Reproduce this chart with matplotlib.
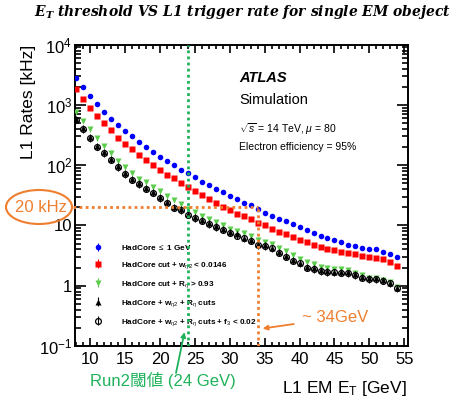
import matplotlib
matplotlib.use('Agg')
import matplotlib.pyplot as plt
from matplotlib.patches import Ellipse
from matplotlib.ticker import MultipleLocator, LogLocator, NullFormatter, FixedLocator, FixedFormatter

plt.rcParams['font.family'] = ['Liberation Sans', 'DejaVu Sans']
plt.rcParams['mathtext.fontset'] = 'custom'
plt.rcParams['mathtext.rm'] = 'Liberation Sans'
plt.rcParams['mathtext.it'] = 'Liberation Sans:italic'
plt.rcParams['mathtext.bf'] = 'Liberation Sans:bold'

# L1 EM ET thresholds [GeV]
et = list(range(8, 55))

# L1 rates [kHz]
rate_hadcore = [2770, 1960, 1406, 1035, 774, 592, 469, 369, 301, 242, 200, 165, 136, 118, 100, 83,
                73, 62.7, 53, 46.6, 40, 35.3, 31, 27, 23.8, 21.5, 18.7, 16, 14.4, 12.9, 11.7, 10.5,
                9.5, 8.4, 7.5, 6.8, 6.3, 5.85, 5.3, 4.8, 4.6, 4.3, 4.1, 4.0, 3.7, 3.4, 3.0]
rate_weta2 = [1836, 1253, 898, 662, 495, 378, 285, 224, 183, 147, 122, 100, 83, 69, 61, 51,
              43.8, 37.2, 31.9, 27, 23.2, 20.4, 17.9, 15.8, 14.3, 12.6, 11.0, 10.1, 8.9, 7.9, 7.1, 6.5,
              5.85, 5.3, 4.8, 4.4, 4.1, 3.9, 3.7, 3.5, 3.3, 3.1, 3.0, 2.94, 2.75, 2.5, 2.1]
rate_reta = [771, 547, 393, 279, 208, 157, 118, 94, 73, 58.7, 51.8, 43.8, 37.6, 31, 26.5, 22.3,
             19.1, 16.8, 14.4, 12.7, 11.5, 10.1, 8.9, 8.0, 7.4, 6.6, 5.85, 5.3, 4.9, 4.2, 3.75, 3.2,
             2.83, 2.5, 2.27, 2.05, 1.98, 1.93, 1.88, 1.81, 1.6, 1.49, 1.36, 1.33, 1.26, 1.15, 0.96]
rate_weta2_reta = [585, 410, 291, 211, 164, 127, 96, 74, 59.5, 50, 42.3, 35.9, 29.3, 24.2, 20.6, 18.6,
                   15.8, 13.6, 12.3, 10.9, 9.7, 8.7, 7.8, 7.1, 6.3, 5.7, 4.9, 4.7, 4.3, 3.65, 3.15, 2.7,
                   2.43, 2.08, 1.95, 1.8, 1.74, 1.72, 1.69, 1.66, 1.55, 1.42, 1.33, 1.32, 1.24, 1.13, 0.93]
rate_f3 = [561, 393, 279, 202, 157, 122, 92, 71, 57, 48, 40.5, 34.4, 28.1, 23.2, 19.8, 17.9,
           15.2, 13.1, 11.8, 10.5, 9.3, 8.4, 7.5, 6.8, 6.1, 5.5, 4.7, 4.5, 4.15, 3.5, 3.05, 2.6,
           2.34, 2.0, 1.88, 1.74, 1.68, 1.66, 1.63, 1.6, 1.49, 1.37, 1.28, 1.27, 1.2, 1.09, 0.90]

labels = ['HadCore $\\leq$ 1 GeV',
          'HadCore cut + w$_{\\eta 2}$ < 0.0146',
          'HadCore cut + R$_{\\eta}$ > 0.93',
          'HadCore + w$_{\\eta 2}$ + R$_{\\eta}$ cuts',
          'HadCore + w$_{\\eta 2}$ + R$_{\\eta}$ cuts + f$_{3}$ < 0.02']

rate_limit = 20       # kHz
run2_threshold = 24   # GeV
new_threshold = 34    # GeV

orange = '#ef7f2f'
green = '#1fb25a'

fig = plt.figure(figsize=(4.5, 4.01), dpi=100)
ax = fig.add_axes([75 / 450, 1 - 346 / 401, (407.7 - 75) / 450, (346 - 44.7) / 401])

xlo, xhi = 7.8, 55.5
ylo, yhi = 0.1, 1e4

h1 = ax.errorbar(et, rate_hadcore, yerr=[v * 0.04 for v in rate_hadcore], fmt='o', color='#0000ff',
                 ms=4, mec='none', elinewidth=0.8, capsize=0, zorder=3)
h2 = ax.errorbar(et, rate_weta2, yerr=[v * 0.05 for v in rate_weta2], fmt='s', color='#ff0000',
                 ms=3.8, mec='none', elinewidth=0.8, capsize=0, zorder=3)
h3 = ax.errorbar(et, rate_reta, yerr=[v * 0.08 for v in rate_reta], fmt='v', color='#5ccc4c',
                 ms=4, mec='none', elinewidth=0.8, capsize=0, zorder=3)
h4 = ax.errorbar(et, rate_weta2_reta, yerr=[v * 0.12 for v in rate_weta2_reta], fmt='^', color='black',
                 ms=4, mec='none', elinewidth=0.8, capsize=0, zorder=4)
h5 = ax.errorbar(et, rate_f3, yerr=[v * 0.12 for v in rate_f3], fmt='o', color='black', mfc='none',
                 mec='black', mew=0.9, ms=4.2, elinewidth=0.8, capsize=0, zorder=5)

ax.set_yscale('log')
ax.set_xlim(xlo, xhi)
ax.set_ylim(ylo, yhi)

# reference lines
ax.axvline(run2_threshold, color=green, ls=(0, (1, 1.2)), lw=2, zorder=6)
ax.hlines(rate_limit, xlo - 0.3, new_threshold, color=orange, ls=(0, (1, 1.2)), lw=2, zorder=6,
          clip_on=False)
ax.vlines(new_threshold, ylo, rate_limit, color=orange, ls=(0, (1, 1.2)), lw=2, zorder=6)

# ticks
ax.xaxis.set_major_locator(MultipleLocator(5))
ax.xaxis.set_minor_locator(MultipleLocator(1))
ax.yaxis.set_major_locator(FixedLocator([0.1, 1, 10, 100, 1000, 10000]))
ax.yaxis.set_major_formatter(FixedFormatter(['$10^{-1}$', '1', '10', '$10^{2}$', '$10^{3}$', '$10^{4}$']))
ax.yaxis.set_minor_locator(LogLocator(base=10, subs=range(2, 10), numticks=20))
ax.yaxis.set_minor_formatter(NullFormatter())
ax.tick_params(which='both', direction='in', top=True, right=True, width=1.2, labelsize=12)
ax.tick_params(axis='x', which='major', length=6, pad=4)
ax.tick_params(axis='x', which='minor', length=3)
ax.tick_params(axis='y', which='major', length=8, pad=2)
ax.tick_params(axis='y', which='minor', length=4)
for s in ax.spines.values():
    s.set_linewidth(1.4)

# axis labels
fig.text(28 / 450, 1 - 45 / 401, 'L1 Rates [kHz]', rotation=90, ha='center', va='top', fontsize=12.5)
fig.text(407 / 450, 1 - 388 / 401, 'L1 EM E$_{\\mathrm{T}}$ [GeV]', ha='right', va='center', fontsize=12.5)

# ATLAS labels
ax.text(239 / 450, 1 - 77.7 / 401, 'ATLAS', transform=fig.transFigure, fontsize=10.5,
        fontweight='bold', fontstyle='italic', va='center')
ax.text(239 / 450, 1 - 100 / 401, 'Simulation', transform=fig.transFigure, fontsize=10.5, va='center')
ax.text(239 / 450, 1 - 129 / 401, '$\\sqrt{s}$ = 14 TeV, $\\mu$ = 80', transform=fig.transFigure,
        fontsize=7.5, va='center')
ax.text(239 / 450, 1 - 147.3 / 401, 'Electron efficiency = 95%', transform=fig.transFigure,
        fontsize=7.5, va='center')

# legend
ax.legend([h1, h2, h3, h4, h5], labels, loc='upper left', bbox_to_anchor=(89 / 450, 1 - 238.5 / 401),
          bbox_transform=fig.transFigure, frameon=False, borderpad=0, handlelength=1.2,
          handletextpad=2.2, labelspacing=1.0, prop={'size': 5.9, 'weight': 'bold'})

# title
fig.text(34 / 450, 1 - 12 / 401, '$\\mathbfit{E_T}$ threshold VS L1 trigger rate for single EM obeject',
         fontfamily='DejaVu Serif', fontweight='bold', fontstyle='italic', fontsize=10,
         math_fontfamily='dejavuserif', ha='left', va='center')

# 20 kHz marker
fig.add_artist(Ellipse((39 / 450, 1 - 207 / 401), 66 / 450, 34 / 401, transform=fig.transFigure,
                       fill=False, edgecolor=orange, lw=1.5))
fig.text(41 / 450, 1 - 207 / 401, '20 kHz', color=orange, fontsize=12, ha='center', va='center')

# ~34 GeV annotation
ax.annotate('~ 34GeV', xy=(new_threshold + 0.7, 0.195), xycoords='data',
            xytext=(302 / 450, 1 - 318 / 401), textcoords='figure fraction', color=orange,
            fontsize=12, ha='left', va='center', annotation_clip=False,
            arrowprops=dict(arrowstyle='-|>', color=orange, lw=1.3, mutation_scale=7, shrinkA=4, shrinkB=0))

# Run2 threshold annotation
ax.annotate('', xy=(run2_threshold - 0.5, 0.17), xycoords='data',
            xytext=(176 / 450, 1 - 373 / 401), textcoords='figure fraction', annotation_clip=False,
            arrowprops=dict(arrowstyle='-|>', color=green, lw=1.3, mutation_scale=7, shrinkA=0, shrinkB=0))
fig.text(90 / 450, 1 - 380 / 401, 'Run2閾値 (24 GeV)', color=green, fontsize=12, ha='left', va='center',
         family=['Liberation Sans', 'Noto Sans CJK JP'])

fig.savefig('out.png', dpi=100)
